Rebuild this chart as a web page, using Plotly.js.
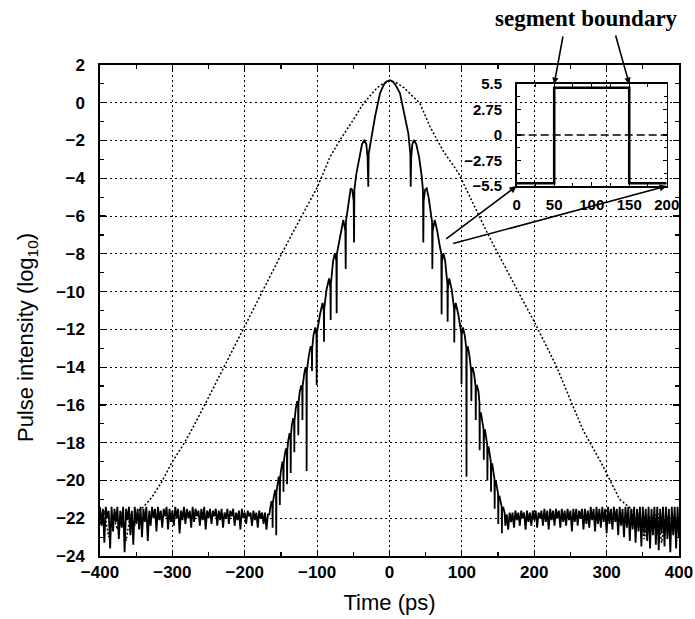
<!DOCTYPE html>
<html>
<head>
<meta charset="utf-8">
<script src="https://cdn.plot.ly/plotly-3.0.1.min.js"></script>
<style>html,body{margin:0;padding:0;background:#fff;}#chart{width:695px;height:619px;}</style>
</head>
<body>
<div id="chart"></div>
<script>
// ---------- Main plot: dotted (input) pulse, [time ps, log10 intensity] ----------
const dottedPulse = [
  [-400,-22.3],[-394,-21.6],[-388,-23.0],[-382,-21.8],[-376,-22.6],[-370,-21.7],[-364,-23.2],
  [-358,-21.8],[-352,-22.4],[-346,-21.6],[-340,-21.4],[-328.5,-20.9],[-314.7,-20.07],[-300,-19.0],
  [-284.8,-18.1],[-273,-17.3],[-250,-15.6],[-202,-12.0],[-175,-10.0],[-150,-8.06],[-120,-5.9],
  [-100,-4.5],[-82,-2.86],[-68.4,-1.97],[-50,-0.9],[-36,-0.03],[-17.7,0.77],[-8,1.05],[1,1.15],
  [10,1.05],[20,0.8],[28.3,0.5],[42,-0.03],[56,-1.27],[75,-2.6],[95,-3.7],[120.4,-5.7],[136.5,-7.0],
  [175,-9.8],[200,-11.6],[230,-13.9],[267,-17.3],[293,-19.1],[318,-21.0],[327.6,-21.3],
  [334,-21.5],[340,-22.4],[346,-21.7],[352,-23.1],[358,-21.8],[364,-22.5],[370,-21.6],
  [376,-23.3],[382,-21.7],[388,-22.7],[394,-21.8],[400,-22.9]
];

// ---------- Main plot: solid (output) pulse ----------
const floorLeft = [
  [-400,-21.4],[-398,-22.4],[-396,-21.5],[-394,-23.3],[-392,-21.4],[-390,-22.0],[-388,-21.6],[-386,-23.6],[-384,-21.4],[-382,-22.7],
  [-380,-21.5],[-378,-22.2],[-376,-21.4],[-374,-23.1],[-372,-21.6],[-370,-22.5],[-368,-21.4],[-366,-23.8],[-364,-21.5],[-362,-22.1],
  [-360,-21.4],[-358,-22.9],[-356,-21.6],[-354,-23.4],[-352,-21.4],[-350,-22.3],[-348,-21.5],[-346,-22.6],[-344,-21.4],[-342,-23.0],
  [-340,-21.5],[-338,-22.2],[-336,-21.4],[-334,-23.2],[-332,-21.6],[-330,-22.4],[-328,-21.4],[-326,-22.0],[-324,-21.5],[-322,-22.7],
  [-320,-21.4],[-318,-22.1],[-316,-21.6],[-314,-22.5],[-312,-21.5],[-310,-21.9],[-308,-21.4],[-306,-22.6],[-304,-21.5],[-302,-22.2],
  [-300,-21.6],[-298,-22.4],[-296,-21.4],[-294,-22.0],[-292,-21.5],[-290,-22.8],[-288,-21.6],[-286,-22.1],[-284,-21.4],[-282,-22.3],
  [-280,-21.5],[-278,-22.0],[-276,-21.6],[-274,-22.5],[-272,-21.4],[-270,-22.2],[-268,-21.5],[-266,-21.9],[-264,-21.6],[-262,-22.4],
  [-260,-21.5],[-258,-22.1],[-256,-21.4],[-254,-22.6],[-252,-21.6],[-250,-22.0],[-248,-21.5],[-246,-22.3],[-244,-21.6],[-242,-21.9],
  [-240,-21.5],[-238,-22.4],[-236,-21.6],[-234,-22.1],[-232,-21.5],[-230,-22.5],[-228,-21.7],[-226,-22.0],[-224,-21.5],[-222,-22.3],
  [-220,-21.6],[-218,-21.9],[-216,-21.5],[-214,-22.4],[-212,-21.7],[-210,-22.1],[-208,-21.6],[-206,-22.6],[-204,-21.5],[-202,-22.0],
  [-200,-21.7],[-198,-22.3],[-196,-21.6],[-194,-21.9],[-192,-21.7],[-190,-22.4],[-188,-21.6],[-186,-22.1],[-184,-21.7],[-182,-22.5],
  [-180,-21.6],[-178,-22.0],[-176,-21.7],[-174,-22.3],[-172,-21.7],[-170,-22.6],[-168,-21.8]
];
const lobesLeft = [
  [-166,-21.8],[-164.5,-21.4],[-163,-21.1],[-161.8,-21.2],[-161.5,-22.5],
  [-161.2,-21.2],[-160,-20.9],[-158,-20.5],[-156.8,-20.7],[-156.5,-22.9],
  [-156.2,-20.6],[-155,-20.3],[-153,-19.8],[-151.8,-20.0],[-151.5,-21.3],
  [-151.2,-19.9],[-150,-19.5],[-148,-19.0],[-146.8,-19.2],[-146.5,-20.6],
  [-146.2,-19.1],[-145,-18.7],[-143,-18.3],[-141.8,-18.5],[-141.5,-20.2],
  [-141.2,-18.4],[-140,-17.9],[-138,-17.5],[-136.8,-17.7],[-136.5,-19.6],
  [-136.2,-17.6],[-135,-17.1],[-133,-16.7],[-131.8,-16.9],[-131.5,-18.5],
  [-131.2,-16.8],[-129.5,-16.2],[-127.5,-15.8],[-126.3,-16.0],[-126,-17.6],
  [-125.7,-15.9],[-124,-15.3],[-121.8,-14.95],[-120.6,-15.1],[-120.3,-16.8],
  [-120,-15.0],[-118,-14.4],[-116,-14.0],[-114.8,-14.3],[-114.5,-19.5],
  [-114.2,-14.2],[-111.5,-13.4],[-109,-12.9],[-107.4,-13.1],[-107.1,-14.2],
  [-106.8,-13.0],[-105,-12.3],[-102.5,-11.9],[-100.9,-12.3],[-100.6,-14.95],
  [-100.3,-12.2],[-96,-11.2],[-92.5,-10.6],[-90.8,-11.0],[-90.5,-12.65],
  [-90.2,-10.9],[-87,-9.9],[-83.5,-9.3],[-81.7,-9.8],[-81.3,-11.5],
  [-81,-9.6],[-78,-8.4],[-75.5,-7.96],[-73.4,-8.4],[-73,-11.15],
  [-72.7,-8.0],[-70.7,-7.6],[-67,-6.8],[-63.8,-6.2],[-61,-6.8],[-60.5,-8.8],
  [-60.2,-6.3],[-59.1,-6.0],[-56,-5.0],[-53.6,-4.53],[-51.5,-4.6],[-49.5,-5.2],[-49,-7.4],
  [-48.5,-4.6],[-46,-3.8],[-42,-2.9],[-38,-2.2],[-34.8,-1.97],[-32,-2.2],[-30.3,-2.9],[-29.3,-4.45]
];
const centralLobe = [
  [-28.8,-2.7],[-27.9,-2.5],[-24.6,-1.62],[-20,-0.74],[-13.1,0.5],[-8,0.95],[-4,1.13],
  [0.7,1.2],[5,1.12],[9,0.9],[14.5,0.5],[21.4,-0.74],[26,-1.62],[28.3,-2.5],[28.8,-2.7]
];
const lobesRight = [
  [29.3,-4.45],[30,-2.9],[31.5,-2.2],[33.8,-1.97],[37,-2.2],[41,-2.9],[44.5,-3.9],[46.2,-4.6],
  [46.7,-7.4],[47.2,-5.2],[49.2,-4.6],[51.4,-4.53],[54,-5.0],[57.5,-6.0],[58.8,-6.3],
  [59.2,-8.8],[59.7,-6.8],[62.5,-6.2],[66,-6.8],[69.5,-7.6],[71.6,-8.0],
  [72,-11.2],[72.4,-8.4],[74.5,-7.96],[77,-8.4],[80,-9.6],
  [80.3,-11.6],[80.7,-9.8],[82.5,-9.3],[86,-9.9],[89.2,-10.9],
  [89.5,-12.7],[89.8,-11.0],[91.5,-10.6],[95,-11.2],[99.2,-12.2],
  [99.5,-14.9],[99.8,-12.3],[101.4,-11.9],[104,-12.3],[106.1,-13.0],
  [106.4,-19.8],[106.7,-13.1],[108.2,-12.9],[110.5,-13.4],[112.8,-14.2],
  [113.1,-15.8],[113.4,-14.3],[114.8,-14.0],[117,-14.4],[118.9,-15.0],
  [119.2,-16.8],[119.5,-15.1],[120.7,-14.95],[123,-15.3],[124.3,-15.9],
  [124.6,-18.4],[124.9,-16.6],[126.2,-16.4],[128.2,-16.8],[130,-17.3],
  [130.3,-18.9],[130.6,-17.5],[131.8,-17.3],[133.8,-17.7],[135,-18.1],
  [135.3,-20.0],[135.6,-18.4],[136.8,-18.2],[138.8,-18.6],[140,-19.0],
  [140.3,-20.6],[140.6,-19.3],[141.8,-19.1],[143.8,-19.5],[145,-19.9],
  [145.3,-21.5],[145.6,-20.2],[146.8,-20.0],[148.8,-20.4],[150,-20.7],
  [150.3,-22.3],[150.6,-21.0],[151.8,-20.8],[153.8,-21.1],[155,-21.4],
  [155.3,-22.8],[155.6,-21.5],[157,-21.4],[159,-21.7]
];
const floorRight = [
  [160,-22.4],[162,-21.8],[164,-22.6],[166,-21.7],[168,-22.2],[170,-21.7],[172,-22.5],[174,-21.6],[176,-22.1],[178,-21.7],
  [180,-22.4],[182,-21.6],[184,-22.0],[186,-21.7],[188,-22.6],[190,-21.6],[192,-22.2],[194,-21.7],[196,-22.4],[198,-21.6],
  [200,-22.1],[202,-21.6],[204,-22.5],[206,-21.7],[208,-22.0],[210,-21.6],[212,-22.4],[214,-21.5],[216,-22.2],[218,-21.6],
  [220,-22.6],[222,-21.5],[224,-22.1],[226,-21.6],[228,-22.4],[230,-21.5],[232,-22.0],[234,-21.6],[236,-22.5],[238,-21.5],
  [240,-22.2],[242,-21.6],[244,-22.4],[246,-21.5],[248,-22.1],[250,-21.6],[252,-22.7],[254,-21.5],[256,-22.2],[258,-21.5],
  [260,-22.4],[262,-21.6],[264,-22.0],[266,-21.5],[268,-22.6],[270,-21.5],[272,-22.3],[274,-21.6],[276,-22.5],[278,-21.4],
  [280,-22.1],[282,-21.5],[284,-22.7],[286,-21.4],[288,-22.3],[290,-21.5],[292,-22.5],[294,-21.4],[296,-22.2],[298,-21.5],
  [300,-22.8],[302,-21.4],[304,-22.3],[306,-21.5],[308,-22.6],[310,-21.4],[312,-22.2],[314,-21.5],[316,-22.9],[318,-21.4],
  [320,-22.4],[322,-21.5],[324,-23.0],[326,-21.4],[328,-22.5],[330,-21.4],[332,-23.2],[334,-21.5],[336,-22.6],[338,-21.4],
  [340,-23.3],[342,-21.5],[344,-22.7],[346,-21.4],[348,-23.5],[350,-21.4],[352,-22.8],[354,-21.5],[356,-23.2],[358,-21.4],
  [360,-23.6],[362,-21.5],[364,-22.9],[366,-21.4],[368,-23.4],[370,-21.4],[372,-23.7],[374,-21.5],[376,-22.8],[378,-21.4],
  [380,-23.5],[382,-21.4],[384,-23.1],[386,-21.5],[388,-23.8],[390,-21.4],[392,-22.9],[394,-21.4],[396,-23.6],[398,-21.4],
  [400,-23.0]
];

// ---------- Inset: phase profile over one segment ----------
const insetT = [0, 50, 50, 150, 150, 200];
const insetPhase = [-5.2, -5.2, 5.1, 5.1, -5.2, -5.2];
const insetZeroT = [0, 200];
const insetZero = [0, 0];

// ---------- Tick labels ----------
const insetYTicks = [-5.5, -2.75, 0, 2.75, 5.5];
const insetYLabels = ['\u22125.5', '\u22122.75', '0', '2.75', '5.5'];
const insetXTicks = [0, 50, 100, 150, 200];

const solid = floorLeft.concat(lobesLeft, centralLobe, lobesRight, floorRight);

const traces = [
  {x: dottedPulse.map(p => p[0]), y: dottedPulse.map(p => p[1]), mode: 'lines',
   line: {color: '#000', width: 1.5, dash: '2px,2px'}, hoverinfo: 'skip'},
  {x: solid.map(p => p[0]), y: solid.map(p => p[1]), mode: 'lines',
   line: {color: '#000', width: 1.8}, hoverinfo: 'skip'},
  {x: insetZeroT, y: insetZero, xaxis: 'x2', yaxis: 'y2', mode: 'lines',
   line: {color: '#000', width: 1.4, dash: '8px,4px'}, hoverinfo: 'skip'},
  {x: insetT, y: insetPhase, xaxis: 'x2', yaxis: 'y2', mode: 'lines',
   line: {color: '#000', width: 2.6}, hoverinfo: 'skip'}
];

const font = 'Arial, "Liberation Sans", sans-serif';
const gridDash = '2px,3px';

const layout = {
  width: 695, height: 619,
  margin: {l: 100, r: 16, t: 65, b: 63},
  paper_bgcolor: '#fff', plot_bgcolor: 'rgba(0,0,0,0)',
  showlegend: false,
  font: {family: font, color: '#000'},
  xaxis: {
    range: [-400, 400], tickmode: 'linear', tick0: 0, dtick: 100,
    showgrid: true, gridcolor: '#000', gridwidth: 1, griddash: gridDash,
    zeroline: false, showline: true, linecolor: '#000', linewidth: 1.6, mirror: 'ticks',
    ticks: 'inside', ticklen: 6, tickcolor: '#000', tickwidth: 1.2,
    minor: {dtick: 50, ticks: 'inside', ticklen: 4, tickcolor: '#000', tickwidth: 1.2, showgrid: false},
    tickfont: {family: font, size: 17, color: '#000', weight: 'bold'}, ticklabelstandoff: 0,
    title: {text: 'Time (ps)', font: {family: font, size: 22, color: '#000'}, standoff: 13}
  },
  yaxis: {
    range: [-24, 2], tickmode: 'linear', tick0: 0, dtick: 2,
    showgrid: true, gridcolor: '#000', gridwidth: 1, griddash: gridDash,
    zeroline: false, showline: true, linecolor: '#000', linewidth: 1.6, mirror: 'ticks',
    ticks: 'inside', ticklen: 6, tickcolor: '#000', tickwidth: 1.2,
    minor: {dtick: 1, ticks: 'inside', ticklen: 4, tickcolor: '#000', tickwidth: 1.2, showgrid: false},
    tickfont: {family: font, size: 17, color: '#000', weight: 'bold'}, ticklabelstandoff: 10
  },
  xaxis2: {
    domain: [0.7197, 0.9788], anchor: 'y2', range: [0, 200],
    tickmode: 'array', tickvals: insetXTicks,
    showgrid: false, zeroline: false, showline: true, linecolor: '#000', linewidth: 1.6, mirror: 'ticks',
    ticks: 'inside', ticklen: 4, tickcolor: '#000', tickwidth: 1.2,
    minor: {dtick: 25, ticks: 'inside', ticklen: 3, tickcolor: '#000', tickwidth: 1, showgrid: false},
    tickfont: {family: font, size: 15, color: '#000', weight: 'bold'}, ticklabelstandoff: 4
  },
  yaxis2: {
    domain: [0.7536, 0.9613], anchor: 'x2', range: [-5.5, 5.5],
    tickmode: 'array', tickvals: insetYTicks, ticktext: insetYLabels,
    showgrid: false, zeroline: false, showline: true, linecolor: '#000', linewidth: 1.6, mirror: 'ticks',
    ticks: 'inside', ticklen: 4, tickcolor: '#000', tickwidth: 1.2,
    minor: {dtick: 1.375, ticks: 'inside', ticklen: 3, tickcolor: '#000', tickwidth: 1, showgrid: false},
    tickfont: {family: font, size: 15, color: '#000', weight: 'bold'}, ticklabelstandoff: 10
  },
  annotations: [
    {xref: 'paper', yref: 'paper', x: -0.126, y: 0.444, xanchor: 'center', yanchor: 'middle',
     textangle: -90, text: 'Pulse intensity (log<sub>10</sub>)', showarrow: false,
     font: {family: font, size: 22, color: '#000'}},
    {xref: 'paper', yref: 'paper', x: 0.841, y: 1.0957, xanchor: 'center', yanchor: 'middle',
     text: '<b>segment boundary</b>', showarrow: false,
     font: {family: '"Liberation Serif", "Times New Roman", serif', size: 23, color: '#000'}},
    {xref: 'x2', yref: 'y2', x: 50, y: 5.5, ax: 9, ay: -49, axref: 'pixel', ayref: 'pixel',
     text: '', showarrow: true, arrowhead: 2, arrowsize: 0.8, arrowwidth: 1.6, arrowcolor: '#000'},
    {xref: 'x2', yref: 'y2', x: 150, y: 5.5, ax: -14, ay: -50, axref: 'pixel', ayref: 'pixel',
     text: '', showarrow: true, arrowhead: 2, arrowsize: 0.8, arrowwidth: 1.6, arrowcolor: '#000'},
    {xref: 'x2', yref: 'y2', x: 0, y: -5.5, ax: -72, ay: 54, axref: 'pixel', ayref: 'pixel',
     text: '', showarrow: true, arrowhead: 2, arrowsize: 0.9, arrowwidth: 1.6, arrowcolor: '#000'},
    {xref: 'x2', yref: 'y2', x: 200, y: -5.5, ax: -215, ay: 58, axref: 'pixel', ayref: 'pixel',
     text: '', showarrow: true, arrowhead: 2, arrowsize: 0.9, arrowwidth: 1.6, arrowcolor: '#000'}
  ]
};

Plotly.newPlot('chart', traces, layout, {displayModeBar: false, staticPlot: true});
</script>
</body>
</html>
